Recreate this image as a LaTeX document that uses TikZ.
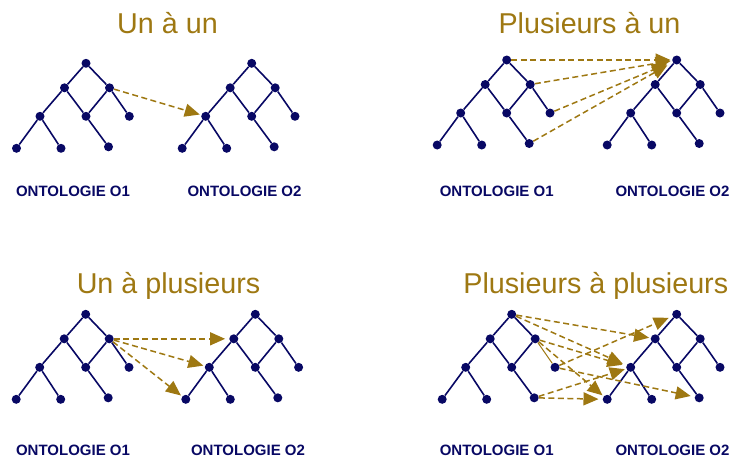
\documentclass[tikz,border=0pt]{standalone}
\usepackage{fontspec}
\setmainfont{Liberation Sans}
\usetikzlibrary{arrows.meta}
\definecolor{navy}{RGB}{8,8,100}
\definecolor{gold}{RGB}{158,120,18}
\tikzset{
  dot/.style={circle,fill=navy,draw=none,minimum size=9pt,inner sep=0pt},
  treeedge/.style={navy,line width=1.6pt},
  maplink/.style={gold,line width=1.5pt,dash pattern=on 6pt off 3.5pt,-{Triangle[length=15pt,width=13pt]},shorten >=1.5pt},
  thinlink/.style={gold,line width=1pt},
  title/.style={gold,font=\fontsize{28.7}{34}\selectfont,anchor=base,inner sep=0pt},
  onto/.style={navy,font=\fontsize{15}{18}\selectfont\bfseries,anchor=base,inner sep=0pt},
}
\newcommand\ontotree[4]{%
  \begin{scope}[shift={(#2,#3)}]
    \node[dot] (#1r) at (0,0) {};
    \node[dot] (#1a) at (-21.5,24.5) {};
    \node[dot] (#1b) at (23.5,24.5) {};
    \node[dot] (#1c) at (-46,53) {};
    \node[dot] (#1d) at (0,53) {};
    \node[dot] (#1e) at (43.3,53) {};
    \node[dot] (#1f) at (-69.5,85) {};
    \node[dot] (#1g) at (-25,85) {};
    \node[dot] (#1h) at (22.5,83.5) {};
    \draw[treeedge] (#1r)--(#1a) (#1r)--(#1b) (#1a)--(#1c) (#1a)--(#1d)
      (#1b)--(#1d) (#1c)--(#1f) (#1c)--(#1g) (#1d)--(#1h);
    \draw[#4] (#1b)--(#1e);
  \end{scope}}
\begin{document}
\begin{tikzpicture}[x=1pt,y=-1pt]
  \useasboundingbox (0,0) rectangle (735,459);
  % titles
  \node[title] (t1) at (167.5,33.3) {Un à un};
  \node[title] (t2) at (589.5,33.3) {Plusieurs à un};
  \node[title] (t3) at (168.5,293.3) {Un à plusieurs};
  \node[title] (t4) at (595.8,293.3) {Plusieurs à plusieurs};
  % trees
  \ontotree{p}{86}{63.3}{treeedge}
  \ontotree{q}{251.7}{63.3}{treeedge}
  \ontotree{u}{506.7}{60}{treeedge}
  \ontotree{v}{676.7}{60}{treeedge}
  \ontotree{k}{85.7}{314.3}{treeedge}
  \ontotree{m}{255.3}{314.3}{treeedge}
  \ontotree{s}{511.7}{314.3}{thinlink}
  \ontotree{w}{676.7}{314.3}{treeedge}
  % labels
  \node[onto] (l1) at (73,196.5) {ONTOLOGIE O1};
  \node[onto] (l2) at (244.5,196.5) {ONTOLOGIE O2};
  \node[onto] (l3) at (496.7,196.5) {ONTOLOGIE O1};
  \node[onto] (l4) at (672.5,196.5) {ONTOLOGIE O2};
  \node[onto] (l5) at (73,455) {ONTOLOGIE O1};
  \node[onto] (l6) at (248,455) {ONTOLOGIE O2};
  \node[onto] (l7) at (496.7,455) {ONTOLOGIE O1};
  \node[onto] (l8) at (672.5,455) {ONTOLOGIE O2};
  % un a un
  \draw[maplink] (pb) -- (qc);
  % plusieurs a un
  \draw[maplink] (ur) -- (vr);
  \draw[maplink] (ub) -- (vr);
  \draw[maplink,shorten >=6pt] (ue) -- (vr);
  \draw[maplink,shorten >=6pt] (uh) -- (vr);
  % un a plusieurs
  \draw[maplink,shorten >=4pt] (kb) -- (ma);
  \draw[maplink] (kb) -- (mc);
  \draw[maplink] (kb) -- (mf);
  % plusieurs a plusieurs
  \draw[maplink] (sr) -- (wa);
  \draw[maplink,shorten >=4pt] (sr) -- (wc);
  \draw[maplink,shorten >=4pt] (sb) -- (wc);
  \draw[maplink] (sb) -- (wf);
  \draw[maplink,shorten >=4pt] (se) -- (wr);
  \draw[maplink,shorten >=4pt] (se) -- (wh);
  \draw[maplink] (sh) -- (wc);
  \draw[maplink,shorten >=4pt] (sh) -- (wf);
\end{tikzpicture}
\end{document}
